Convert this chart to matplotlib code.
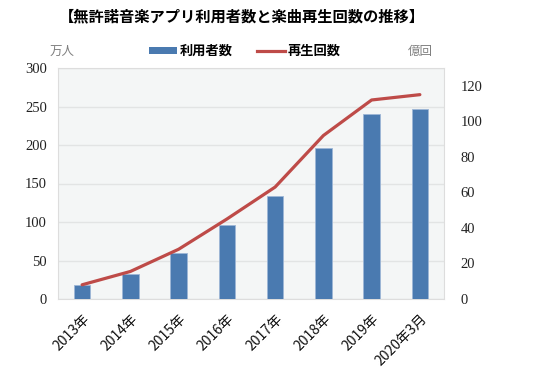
import matplotlib
matplotlib.use("Agg")
import matplotlib.pyplot as plt
from matplotlib.patches import Patch
from matplotlib.lines import Line2D

categories = ["2013年", "2014年", "2015年", "2016年", "2017年", "2018年", "2019年", "2020年3月"]
users = [18, 32, 60, 96, 134, 196, 240, 247]          # 万人
plays = [8, 15.5, 28, 45, 63, 92, 112, 115]           # 億回
left_ticks = [0, 50, 100, 150, 200, 250, 300]
right_ticks = [0, 20, 40, 60, 80, 100, 120]

plt.rcParams["font.serif"] = ["Liberation Serif", "DejaVu Serif"]
jp = ["Noto Sans CJK JP", "DejaVu Sans"]

fig = plt.figure(figsize=(5.5, 3.82), dpi=100)
ax = fig.add_axes([58/550, 1-299/382, (444-58)/550, (299-68)/382])
ax.set_facecolor("#f4f6f6")
x = list(range(len(categories)))
ax.bar(x, users, width=0.34, color="#4a7ab0", edgecolor="#9db6d6", linewidth=0.6, zorder=3)
ax.set_xlim(-0.5, len(categories)-0.5)
ax.set_ylim(0, 300)
ax.set_yticks(left_ticks)
ax.set_yticklabels([str(t) for t in left_ticks], family="serif", fontsize=10.5, color="#222222")
ax.grid(axis="y", color="#e2e4e4", linewidth=1.0, zorder=0)
ax.set_axisbelow(True)
for s in ax.spines.values():
    s.set_color("#dddddd")
    s.set_linewidth(0.8)
ax.tick_params(axis="y", length=0, pad=8)
ax.set_xticks(x)
ax.set_xticklabels(categories, family=jp, fontsize=10, rotation=45, ha="right", rotation_mode="anchor",
                   color="#111111")
ax.tick_params(axis="x", length=0, pad=9)

ax2 = ax.twinx()
ax2.plot(x, plays, color="#be4b48", linewidth=2.3, zorder=5, solid_capstyle="round")
ax2.set_ylim(0, 130)
ax2.set_yticks(right_ticks)
ax2.set_yticklabels([str(t) for t in right_ticks], family="serif", fontsize=10.5, color="#222222")
ax2.tick_params(axis="y", length=0, pad=12)
for s in ax2.spines.values():
    s.set_visible(False)

fig.text(242/550, 1-16/382, "【無許諾音楽アプリ利用者数と楽曲再生回数の推移】", family=jp,
         fontsize=11, fontweight="bold", ha="center", va="center")
fig.text(62/550, 1-51/382, "万人", family=jp, fontsize=9, color="#808080", ha="center", va="center")
fig.text(420/550, 1-51/382, "億回", family=jp, fontsize=9, color="#808080", ha="center", va="center")

handles = [Patch(facecolor="#4a7ab0", edgecolor="none"),
           Line2D([0], [0], color="#be4b48", linewidth=2.3)]
leg = fig.legend(handles, ["利用者数", "再生回数"], loc="center", bbox_to_anchor=(245/550, 1-51/382),
                 ncol=2, frameon=False, prop={"family": jp, "weight": "bold", "size": 9.5},
                 handlelength=2.1, handleheight=0.45, columnspacing=1.8, handletextpad=0.25,
                 borderpad=0, borderaxespad=0)

fig.savefig("out.png", dpi=100)
